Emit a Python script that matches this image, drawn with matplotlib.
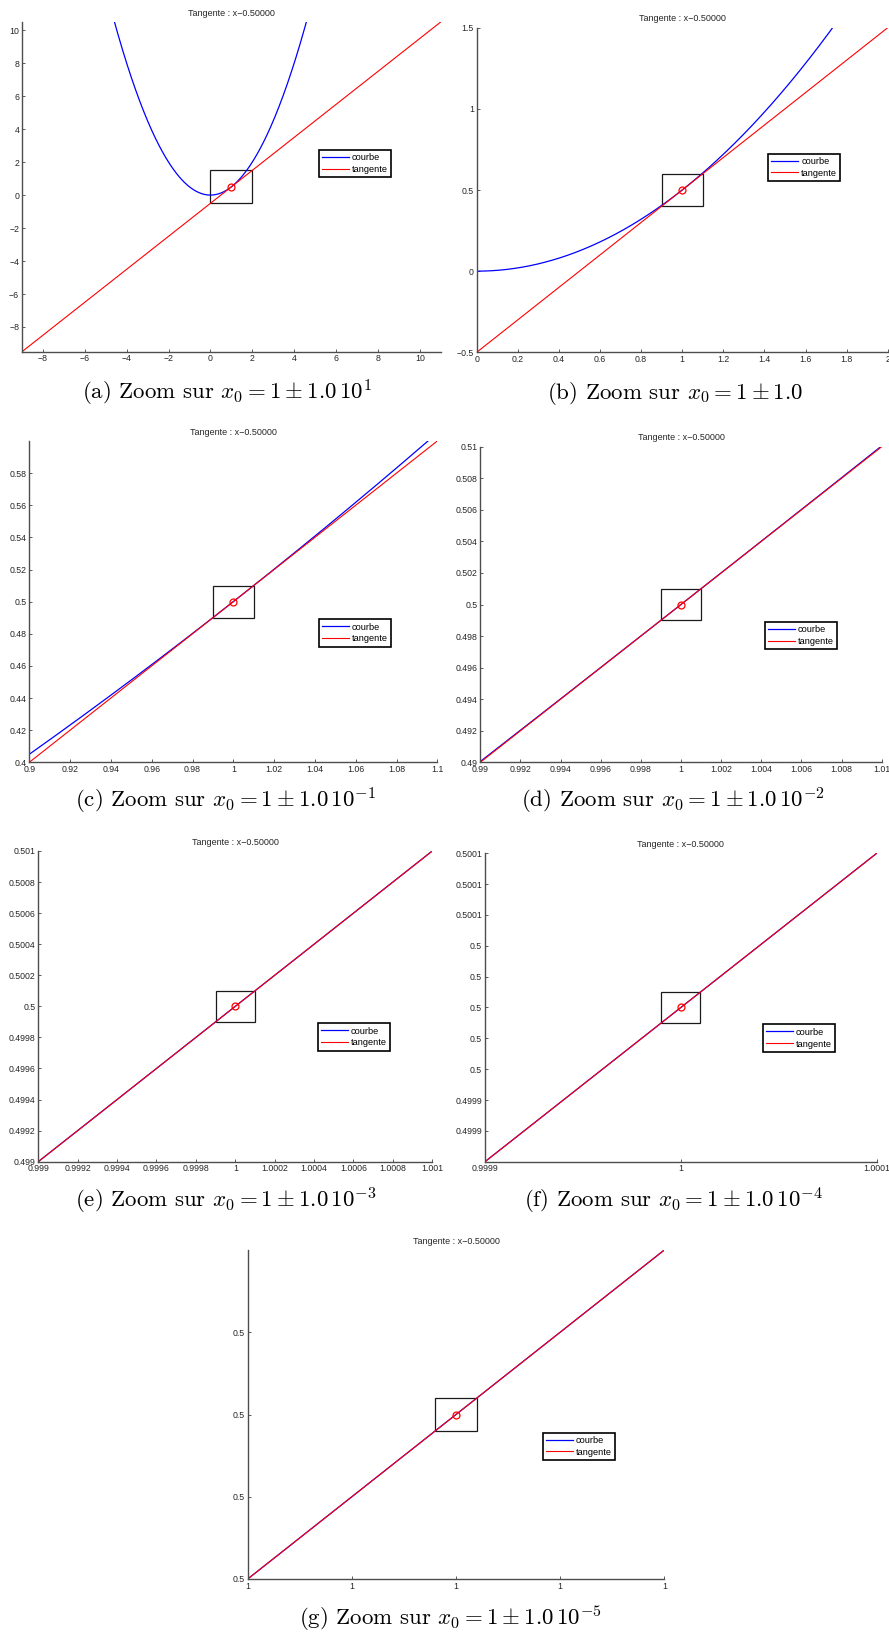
import numpy as np
import matplotlib
matplotlib.use("Agg")
import matplotlib.pyplot as plt
from matplotlib.ticker import FuncFormatter
from matplotlib.patches import Rectangle

plt.rcParams["font.family"] = ["Liberation Sans", "DejaVu Sans"]
plt.rcParams["mathtext.fontset"] = "cm"

# point de tangence et pente (lu dans le titre "Tangente : x-0.50000")
x0 = 1.0
y0 = 0.5
pente = 1.0

# demi-largeur de chaque zoom
demi_largeurs = [10, 1, 0.1, 0.01, 0.001, 0.0001, 0.00001]
lettres = ["a", "b", "c", "d", "e", "f", "g"]
zoom_txt = [r"1.0\,10^{1}", r"1.0", r"1.0\,10^{-1}", r"1.0\,10^{-2}",
            r"1.0\,10^{-3}", r"1.0\,10^{-4}", r"1.0\,10^{-5}"]

# graduations (debut, fin, nombre)
xticks_spec = [(-8, 10, 10), (0, 2, 11), (0.9, 1.1, 11), (0.99, 1.01, 11),
               (0.999, 1.001, 11), (0.9999, 1.0001, 3), (0.99999, 1.00001, 5)]
yticks_spec = [(-8, 10, 10), (-0.5, 1.5, 5), (0.4, 0.58, 10), (0.49, 0.51, 11),
               (0.499, 0.501, 11), (0.49992, 0.5001, 10), (0.49999, 0.500005, 4)]

titre = "Tangente : x\u22120.50000"

# mise en page en pixels : gauche, haut, droite, bas
W, H = 889, 1637
axes_px = [(22, 22, 440.7, 351.7), (476.7, 27.7, 887.7, 352.3),
           (29.3, 441, 437.3, 762.3), (480.3, 446.7, 881.7, 762.3),
           (38.3, 851, 432.3, 1161.7), (485, 853.3, 876.7, 1161.7),
           (247.7, 1250, 664.3, 1579)]
legende_y = [0.612, 0.612, 0.445, 0.445, 0.445, 0.445, 0.445]
legende_x = 0.709
legendes_px = [(227, 399), (675, 399), (226, 807), (673, 807),
               (226, 1207), (673, 1207), (450, 1625)]


def f(x):
    return x ** 2 / 2


def fmt(v, pos):
    s = f"{v:.4f}".rstrip("0").rstrip(".")
    if s == "-0":
        s = "0"
    return s.replace("-", "\u2212")


fig = plt.figure(figsize=(W / 100, H / 100), dpi=100)

for i, h in enumerate(demi_largeurs):
    l, t, r, b = axes_px[i]
    ax = fig.add_axes([l / W, 1 - b / H, (r - l) / W, (b - t) / H])

    x = np.linspace(x0 - h, x0 + h, 600)
    ax.plot(x, f(x), color="#0000ff", lw=0.9, label="courbe")
    ax.plot(x, y0 + pente * (x - x0), color="#ff0000", lw=0.8, label="tangente")
    ax.plot([x0], [y0], "o", mfc="none", mec="#ff0000", ms=5, mew=0.9)
    d = h / 10
    ax.add_patch(Rectangle((x0 - d, y0 - d), 2 * d, 2 * d, fill=False,
                           ec="0.1", lw=0.9))

    ax.set_xlim(x0 - h, x0 + h)
    ax.set_ylim(y0 - h, y0 + h)
    ax.set_xticks(np.linspace(*xticks_spec[i]))
    ax.set_yticks(np.linspace(*yticks_spec[i]))
    ax.xaxis.set_major_formatter(FuncFormatter(fmt))
    ax.yaxis.set_major_formatter(FuncFormatter(fmt))
    ax.tick_params(direction="in", length=2.5, width=0.6, labelsize=6.3,
                   pad=2, colors="0.25", labelcolor="0.15")
    for s in ["top", "right"]:
        ax.spines[s].set_visible(False)
    for s in ["left", "bottom"]:
        ax.spines[s].set_color("0.3")
        ax.spines[s].set_linewidth(1.0)

    ax.set_title(titre, fontsize=6.5, pad=4.5, color="0.15")

    leg = ax.legend(loc="upper left", bbox_to_anchor=(legende_x, legende_y[i]),
                    borderaxespad=0, fontsize=6.7, fancybox=False,
                    framealpha=1, edgecolor="black", handlelength=2.9,
                    handletextpad=0.3, borderpad=0.35, labelspacing=0.3)
    leg.get_frame().set_linewidth(1.2)

    cx, cy = legendes_px[i]
    fig.text(cx / W, 1 - cy / H,
             f"({lettres[i]}) Zoom sur $x_0 = 1 \\pm {zoom_txt[i]}$",
             fontsize=16.5, family="cmr10", ha="center", va="baseline")

fig.savefig("out.png", dpi=100)
